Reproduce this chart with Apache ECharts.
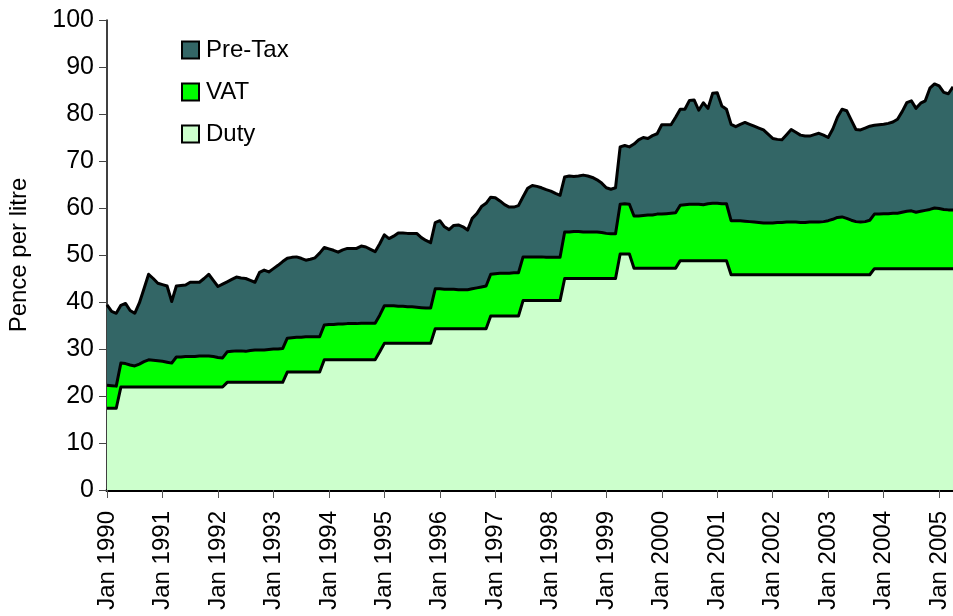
<!DOCTYPE html>
<html><head><meta charset="utf-8">
<script src="https://cdn.jsdelivr.net/npm/echarts@6/dist/echarts.min.js"></script>
<style>html,body{margin:0;padding:0;background:#fff}#c{width:953px;height:616px}</style>
</head><body><div id="c"></div>
<script>
// Monthly categories Jan 1990 .. Apr 2005
const monthNames = ['Jan','Feb','Mar','Apr','May','Jun','Jul','Aug','Sep','Oct','Nov','Dec'];
const startYear = 1990;
const monthCount = 184;
const categories = [];
for (let i = 0; i < monthCount; i++) {
  categories.push(monthNames[i % 12] + ' ' + (startYear + Math.floor(i / 12)));
}

// Pence per litre, one row per year
const duty = [
  17.4,17.4,17.4,21.9,21.9,21.9,21.9,21.9,21.9,21.9,21.9,21.9,
  21.9,21.9,21.9,21.9,21.9,21.9,21.9,21.9,21.9,21.9,21.9,21.9,
  21.9,21.9,22.9,22.9,22.9,22.9,22.9,22.9,22.9,22.9,22.9,22.9,
  22.9,22.9,22.9,25.1,25.1,25.1,25.1,25.1,25.1,25.1,25.1,27.7,
  27.7,27.7,27.7,27.7,27.7,27.7,27.7,27.7,27.7,27.7,27.7,29.4,
  31.2,31.2,31.2,31.2,31.2,31.2,31.2,31.2,31.2,31.2,31.2,34.3,
  34.3,34.3,34.3,34.3,34.3,34.3,34.3,34.3,34.3,34.3,34.3,37.0,
  37.0,37.0,37.0,37.0,37.0,37.0,40.3,40.3,40.3,40.3,40.3,40.3,
  40.3,40.3,40.3,45.0,45.0,45.0,45.0,45.0,45.0,45.0,45.0,45.0,
  45.0,45.0,45.0,50.2,50.2,50.2,47.2,47.2,47.2,47.2,47.2,47.2,
  47.2,47.2,47.2,47.2,48.8,48.8,48.8,48.8,48.8,48.8,48.8,48.8,
  48.8,48.8,48.8,45.8,45.8,45.8,45.8,45.8,45.8,45.8,45.8,45.8,
  45.8,45.8,45.8,45.8,45.8,45.8,45.8,45.8,45.8,45.8,45.8,45.8,
  45.8,45.8,45.8,45.8,45.8,45.8,45.8,45.8,45.8,45.8,47.1,47.1,
  47.1,47.1,47.1,47.1,47.1,47.1,47.1,47.1,47.1,47.1,47.1,47.1,
  47.1,47.1,47.1,47.1
];
const vat = [
  4.9,4.8,4.7,5.1,5.0,4.7,4.5,4.9,5.4,5.8,5.7,5.6,
  5.5,5.3,5.1,6.4,6.4,6.5,6.5,6.5,6.6,6.6,6.6,6.5,
  6.3,6.2,6.5,6.6,6.7,6.7,6.6,6.8,6.9,6.9,6.9,7.0,
  7.1,7.1,7.2,7.2,7.3,7.4,7.4,7.5,7.5,7.5,7.5,7.4,
  7.5,7.5,7.6,7.6,7.7,7.7,7.7,7.8,7.8,7.8,7.8,7.8,
  8.0,8.0,8.0,7.9,7.9,7.8,7.8,7.7,7.6,7.5,7.5,8.5,
  8.5,8.4,8.4,8.4,8.3,8.3,8.3,8.5,8.7,8.9,9.1,8.9,
  9.0,9.1,9.1,9.1,9.2,9.2,9.3,9.3,9.3,9.3,9.3,9.2,
  9.2,9.2,9.2,9.9,9.9,10.0,10.0,9.9,9.9,9.9,9.9,9.8,
  9.6,9.5,9.5,10.6,10.7,10.6,11.1,11.1,11.2,11.3,11.3,11.5,
  11.5,11.6,11.7,11.8,11.8,11.9,12.0,12.0,12.0,11.9,12.1,12.2,
  12.2,12.1,12.1,11.5,11.5,11.5,11.4,11.3,11.2,11.1,11.0,11.0,
  11.0,11.1,11.1,11.2,11.2,11.2,11.1,11.1,11.2,11.2,11.2,11.3,
  11.5,11.8,12.2,12.3,12.0,11.6,11.3,11.2,11.3,11.6,11.6,11.6,
  11.7,11.7,11.8,11.8,12.0,12.2,12.3,12.0,12.2,12.4,12.6,12.9,
  12.8,12.6,12.5,12.5
];
const preTax = [
  17.1,15.8,15.5,12.3,12.8,11.6,11.2,13.0,15.5,18.2,17.4,16.5,
  16.3,16.2,13.1,15.1,15.2,15.2,15.8,15.8,15.7,16.5,17.4,16.2,
  15.1,15.7,14.9,15.3,15.7,15.5,15.5,14.9,14.4,16.5,17.0,16.5,
  17.1,17.8,18.5,17.0,17.1,17.1,16.8,16.3,16.5,16.8,17.8,16.5,
  16.1,15.8,15.3,15.8,16.0,16.0,16.0,16.4,16.2,15.7,15.2,15.2,
  15.1,14.3,14.8,15.6,15.6,15.6,15.6,15.7,14.9,14.4,13.9,14.1,
  14.5,13.3,12.7,13.6,13.8,13.4,12.7,15.0,15.8,17.1,17.6,16.4,
  16.2,15.4,14.6,14.1,14.0,14.3,12.8,14.6,15.2,15.0,14.7,14.4,
  14.1,13.6,13.2,11.7,11.9,11.7,11.8,12.1,11.9,11.6,11.1,10.5,
  9.7,9.5,9.8,12.2,12.4,12.2,15.3,16.2,16.6,16.3,16.9,17.1,
  19.0,18.9,18.8,20.3,20.4,20.3,22.1,22.2,20.0,21.7,20.3,23.4,
  23.5,20.8,20.1,20.5,20.0,20.5,21.0,20.7,20.4,20.1,19.8,18.9,
  18.0,17.7,17.6,18.6,19.7,19.1,18.6,18.4,18.3,18.6,18.9,18.4,
  17.7,19.2,21.3,22.9,22.9,21.3,19.6,19.6,19.9,20.0,18.9,19.0,
  19.0,19.2,19.4,20.0,21.4,23.1,23.4,22.1,23.0,23.3,25.8,26.4,
  26.1,24.9,24.7,26.2
];
const yMin = 0, yMax = 100, yStep = 10;
const legendOrder = ['Pre-Tax', 'VAT', 'Duty'];

const FONT = 'Liberation Sans, Arial, sans-serif';
const chart = echarts.init(document.getElementById('c'), null, { renderer: 'canvas' });
const everyYear = (idx) => idx % 12 === 0;

function areaSeries(name, data, color, z) {
  return {
    name, type: 'line', stack: 'price', data, z,
    symbol: 'none', showSymbol: false, smooth: false,
    itemStyle: { color },
    lineStyle: { color: '#000', width: 3, join: 'round' },
    areaStyle: { color, opacity: 1 },
    emphasis: { disabled: true }
  };
}

chart.setOption({
  animation: false,
  backgroundColor: '#fff',
  textStyle: { fontFamily: FONT },
  grid: { left: 107, right: 0, top: 20, bottom: 126, containLabel: false, outerBoundsMode: 'none' },
  legend: {
    data: legendOrder,
    orient: 'vertical',
    left: 176, top: 33,
    icon: 'rect',
    itemWidth: 17, itemHeight: 17, itemGap: 18,
    itemStyle: { borderColor: '#000', borderWidth: 2 },
    textStyle: { fontFamily: FONT, fontSize: 24, color: '#000', padding: [0, 0, 0, 2] }
  },
  xAxis: {
    type: 'category',
    data: categories,
    boundaryGap: false,
    axisLine: { show: true, lineStyle: { color: '#000', width: 3 } },
    axisTick: { show: true, interval: everyYear, length: 8, lineStyle: { color: '#555', width: 1 } },
    axisLabel: { interval: everyYear, rotate: 90, fontSize: 24, color: '#000', fontFamily: FONT, margin: 21 },
    splitLine: { show: false }
  },
  yAxis: {
    type: 'value',
    min: yMin, max: yMax, interval: yStep,
    name: 'Pence per litre',
    nameLocation: 'middle',
    nameGap: 76,
    nameTextStyle: { fontSize: 24, color: '#000', fontFamily: FONT },
    axisLine: { show: true, lineStyle: { color: '#000', width: 1.5 } },
    axisTick: { show: true, length: 8, lineStyle: { color: '#444', width: 1 } },
    axisLabel: { fontSize: 25, color: '#000', fontFamily: FONT, margin: 13 },
    splitLine: { show: false }
  },
  series: [
    areaSeries('Duty', duty, '#CCFFCC', 5),
    areaSeries('VAT', vat, '#00FF00', 4),
    areaSeries('Pre-Tax', preTax, '#336666', 3)
  ]
});
</script>
</body></html>
